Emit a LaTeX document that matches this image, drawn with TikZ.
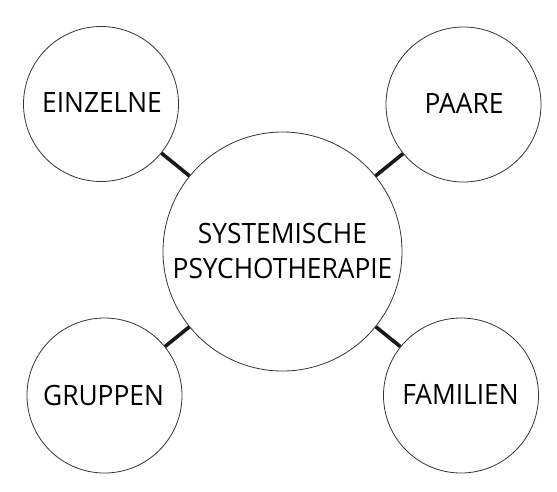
\documentclass[tikz,border=0pt]{standalone}
\usepackage{fontspec}
\setmainfont{Open Sans}[FakeStretch=0.94]
\begin{document}
\begin{tikzpicture}[x=1pt,y=-1pt,
  bubble/.style={circle,draw=black!80,line width=0.8pt,inner sep=0pt},
  link/.style={line width=3.6pt,draw=black!90},
  lbl/.style={font=\fontsize{28}{35}\selectfont,anchor=base,inner sep=0pt,align=center}]
\useasboundingbox (0,0) rectangle (557,491);
\node[bubble,minimum size=239pt] (c) at (282.5,251.5) {};
\node[bubble,minimum size=155pt] (tl) at (101,104) {};
\node[bubble,minimum size=155pt] (tr) at (463.5,104.5) {};
\node[bubble,minimum size=155pt] (bl) at (104.5,395.5) {};
\node[bubble,minimum size=155pt] (br) at (461,395.5) {};
\draw[link] (c) -- (tl);
\draw[link] (c) -- (tr);
\draw[link] (c) -- (bl);
\draw[link] (c) -- (br);
\node[lbl] (tlt) at (102,112.5) {EINZELNE};
\node[lbl] (trt) at (464,113) {PAARE};
\node[lbl] (blt) at (103.5,405) {GRUPPEN};
\node[lbl] (brt) at (460.5,404.5) {FAMILIEN};
\node[lbl] (ct1) at (282.5,243) {SYSTEMISCHE};
\node[lbl] (ct2) at (282.5,278) {PSYCHOTHERAPIE};
\end{tikzpicture}
\end{document}
